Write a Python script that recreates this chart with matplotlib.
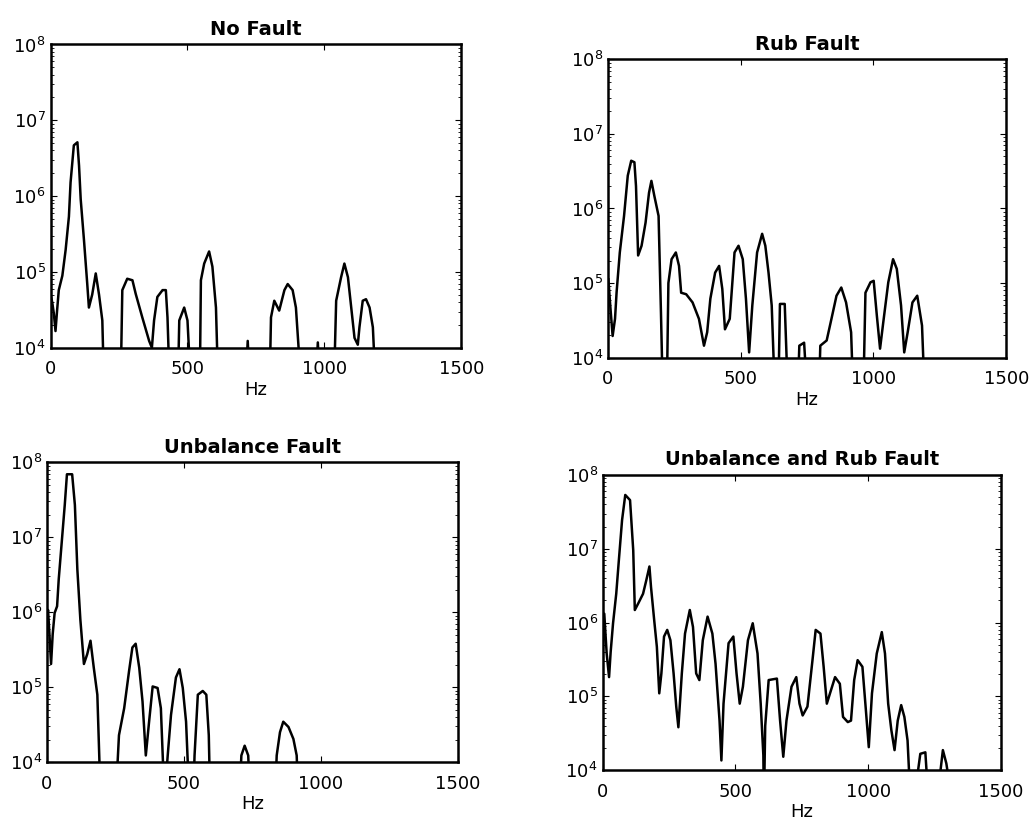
import numpy as np
import matplotlib.pyplot as plt

# frequency (Hz) and log10 magnitude; 3.5 = below the 1e4 floor
nf_hz = [0, 6, 12, 18, 24, 30, 43, 55, 67, 73, 85, 98, 104, 110, 122, 134, 140, 152, 165, 177, 189, 195,
         256, 262, 280, 299, 311, 335, 360, 370, 378, 390, 409, 421, 427, 435,
         465, 470, 488, 500, 512, 545, 549, 561, 579, 591, 604, 612,
         712, 720, 728, 800, 805, 817, 835, 854, 866, 884, 896, 915,
         968, 976, 984, 1035, 1043, 1061, 1073, 1086, 1098, 1110, 1122, 1128, 1140, 1152, 1165, 1177, 1187, 1500]
nf_lg = [4.7, 4.6, 4.45, 4.22, 4.5, 4.76, 4.95, 5.29, 5.73, 6.18, 6.67, 6.71, 6.4, 5.96, 5.42, 4.84, 4.53, 4.7, 4.98, 4.7, 4.36, 3.5,
         3.5, 4.76, 4.91, 4.89, 4.71, 4.4, 4.09, 4.0, 4.36, 4.67, 4.76, 4.76, 4.4, 3.5,
         3.5, 4.36, 4.53, 4.36, 3.5, 3.5, 4.89, 5.11, 5.27, 5.07, 4.53, 3.5,
         3.5, 4.09, 3.5, 3.5, 4.4, 4.62, 4.49, 4.76, 4.84, 4.76, 4.53, 3.5,
         3.5, 4.07, 3.5, 3.5, 4.62, 4.93, 5.11, 4.93, 4.53, 4.13, 4.04, 4.27, 4.62, 4.64, 4.53, 4.27, 3.5, 3.5]

rub_hz = [2, 9, 18, 27, 33, 45, 61, 75, 88, 100, 106, 114, 127, 142, 155, 164, 175, 191, 200, 207,
          222, 228, 240, 256, 268, 276, 295, 319, 343, 362, 374, 386, 404, 419, 431, 441, 459, 477, 492,
          508, 520, 532, 544, 562, 581, 593, 605, 617, 629,
          642, 648, 666, 678, 715, 721, 739, 751,
          795, 800, 824, 842, 861, 879, 897, 916, 924,
          962, 970, 989, 1001, 1013, 1025, 1037, 1056, 1074, 1088, 1104, 1116, 1129, 1147, 1165, 1183, 1193, 1500]
rub_lg = [5.05, 4.7, 4.29, 4.52, 4.88, 5.41, 5.9, 6.44, 6.64, 6.62, 6.3, 5.37, 5.5, 5.81, 6.21, 6.37, 6.17, 5.9, 4.6, 3.5,
          3.5, 5.0, 5.32, 5.41, 5.23, 4.87, 4.85, 4.74, 4.52, 4.16, 4.34, 4.79, 5.14, 5.23, 4.92, 4.38, 4.52, 5.41, 5.5,
          5.32, 4.79, 4.07, 4.7, 5.41, 5.66, 5.5, 5.14, 4.7, 3.5,
          3.5, 4.72, 4.72, 3.5, 3.5, 4.16, 4.2, 3.5,
          3.5, 4.16, 4.23, 4.52, 4.83, 4.94, 4.74, 4.34, 3.5,
          3.5, 4.87, 5.01, 5.03, 4.56, 4.12, 4.47, 5.01, 5.32, 5.19, 4.7, 4.07, 4.34, 4.74, 4.83, 4.43, 3.5, 3.5]

unb_hz = [0, 4, 9, 15, 21, 28, 37, 43, 55, 65, 73, 92, 102, 111, 122, 135, 147, 159, 171, 184, 196,
          251, 263, 282, 300, 312, 324, 337, 349, 361, 373, 386, 404, 416, 429,
          441, 453, 471, 484, 496, 508, 520,
          534, 539, 551, 569, 582, 591, 596,
          703, 710, 722, 735, 742,
          833, 839, 851, 863, 882, 900, 912, 918, 1500]
unb_lg = [5.9, 6.03, 5.71, 5.31, 5.71, 5.99, 6.08, 6.44, 6.98, 7.43, 7.84, 7.84, 7.43, 6.57, 5.9, 5.31, 5.44, 5.62, 5.26, 4.9, 3.5,
          3.5, 4.36, 4.72, 5.22, 5.53, 5.58, 5.26, 4.81, 4.09, 4.54, 5.01, 4.99, 4.72, 3.5,
          4.09, 4.63, 5.13, 5.24, 4.99, 4.54, 3.5,
          3.5, 4.09, 4.9, 4.95, 4.9, 4.36, 3.5,
          3.5, 4.09, 4.22, 4.09, 3.5,
          3.5, 4.09, 4.4, 4.54, 4.47, 4.31, 4.09, 3.5, 3.5]

both_hz = [0, 6, 15, 24, 30, 39, 51, 61, 73, 85, 103, 115, 121, 134, 152, 164, 176, 182, 194, 204, 213, 221,
           231, 243, 255, 267, 277, 285, 298, 310, 328, 340, 352, 364, 377, 395, 413, 425, 440, 447, 455,
           474, 492, 504, 516, 528, 547, 565, 583, 595, 605, 607, 612, 625, 656, 668, 680, 692, 711, 729,
           741, 753, 771, 790, 802, 820, 832, 844, 856, 875, 893, 905, 923, 935, 947, 960, 978, 990, 1002,
           1014, 1032, 1051, 1063, 1075, 1087, 1099, 1111, 1124, 1136, 1148, 1160,
           1180, 1184, 1196, 1215, 1221, 1226, 1264, 1269, 1281, 1294, 1302, 1306, 1500]
both_lg = [5.6, 6.12, 5.58, 5.26, 5.6, 5.99, 6.39, 6.85, 7.39, 7.73, 7.66, 6.98, 6.17, 6.26, 6.39, 6.57, 6.76, 6.48, 6.03, 5.67, 5.04, 5.31,
           5.81, 5.9, 5.76, 5.31, 4.86, 4.58, 5.31, 5.85, 6.17, 5.94, 5.31, 5.22, 5.76, 6.08, 5.85, 5.44, 4.67, 4.13, 4.9,
           5.72, 5.81, 5.31, 4.9, 5.13, 5.76, 5.99, 5.58, 4.9, 4.2, 3.5, 4.6, 5.22, 5.24, 4.67, 4.18, 4.67, 5.13, 5.26,
           4.9, 4.74, 4.86, 5.49, 5.9, 5.85, 5.4, 4.9, 5.04, 5.26, 5.17, 4.72, 4.65, 4.67, 5.22, 5.49, 5.4, 4.86, 4.31,
           5.04, 5.58, 5.87, 5.58, 4.9, 4.54, 4.27, 4.67, 4.88, 4.72, 4.4, 3.5,
           3.5, 3.9, 4.22, 4.24, 3.9, 3.5, 3.5, 3.9, 4.27, 4.09, 3.9, 3.5, 3.5]

panels = [
    ("No Fault", nf_hz, nf_lg, [0.049, 0.578, 0.398, 0.368]),
    ("Rub Fault", rub_hz, rub_lg, [0.589, 0.566, 0.386, 0.362]),
    ("Unbalance Fault", unb_hz, unb_lg, [0.0455, 0.075, 0.398, 0.364]),
    ("Unbalance and Rub Fault", both_hz, both_lg, [0.584, 0.0655, 0.386, 0.358]),
]

fig = plt.figure(figsize=(10.32, 8.24), dpi=100)
for title, hz, lg, pos in panels:
    ax = fig.add_axes(pos)
    ax.semilogy(hz, 10.0 ** np.array(lg), color='black', linewidth=1.8)
    ax.set_xlim(0, 1500)
    ax.set_ylim(1e4, 1e8)
    ax.set_xticks([0, 500, 1000, 1500])
    ax.set_yticks([1e4, 1e5, 1e6, 1e7, 1e8])
    ax.tick_params(which='both', direction='in', top=True, right=True, labelsize=13)
    ax.tick_params(axis='x', pad=9)
    ax.tick_params(which='major', length=4)
    ax.tick_params(which='minor', length=2)
    ax.set_title(title, fontsize=14, fontweight='bold', pad=7)
    ax.set_xlabel('Hz', fontsize=13, labelpad=2)
    for s in ax.spines.values():
        s.set_linewidth(1.8)

fig.savefig('out.png', dpi=100)
